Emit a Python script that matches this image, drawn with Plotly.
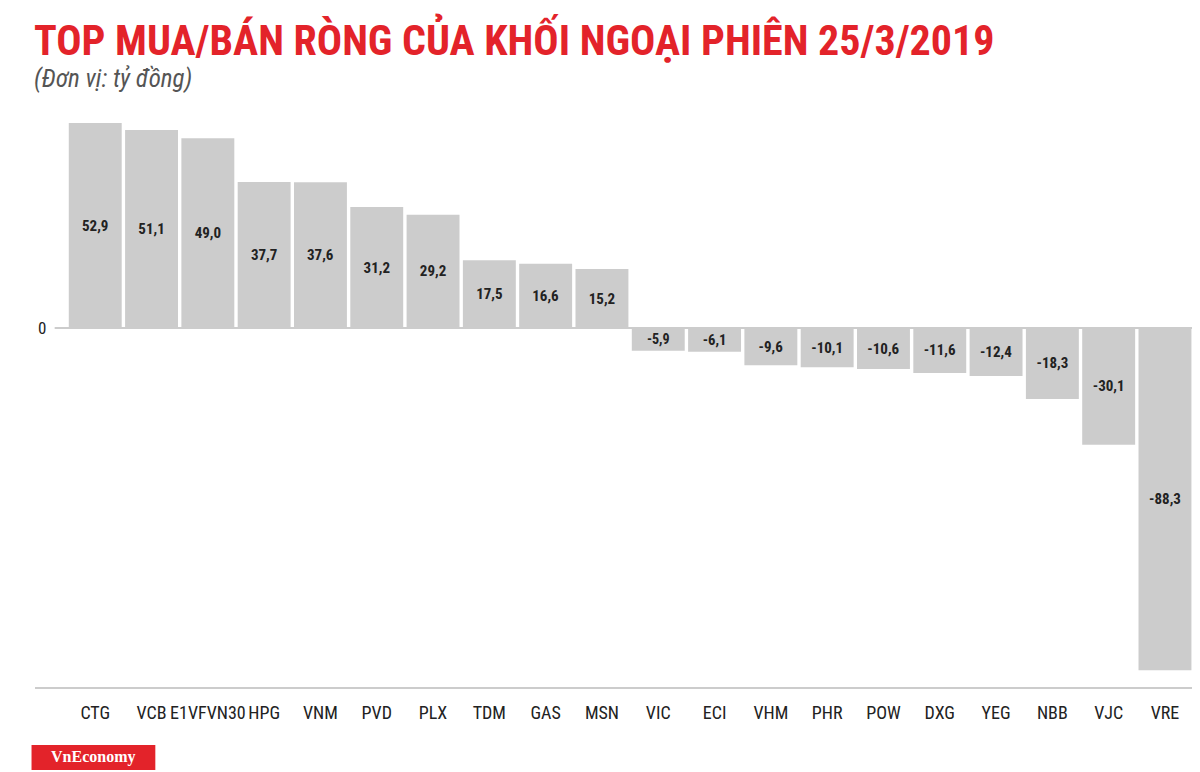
import plotly.graph_objects as go

tickers = ["CTG", "VCB", "E1VFVN30", "HPG", "VNM", "PVD", "PLX", "TDM", "GAS", "MSN",
           "VIC", "ECI", "VHM", "PHR", "POW", "DXG", "YEG", "NBB", "VJC", "VRE"]
values = [52.9, 51.1, 49.0, 37.7, 37.6, 31.2, 29.2, 17.5, 16.6, 15.2,
          -5.9, -6.1, -9.6, -10.1, -10.6, -11.6, -12.4, -18.3, -30.1, -88.3]
labels = [f"{v:.1f}".replace(".", ",") for v in values]

cond = "Roboto Condensed, Liberation Sans Narrow, Roboto, sans-serif"
xs = list(range(len(tickers)))

fig = go.Figure(go.Bar(
    x=xs, y=values, width=0.94,
    marker=dict(color="#cccccc", line=dict(width=0)),
    text=[f"<b>{t}</b>" for t in labels], textposition="inside",
    insidetextanchor="middle", textangle=0,
    textfont=dict(family=cond, size=15, color="#222222"),
))

fig.update_layout(
    width=1192, height=764, plot_bgcolor="white", paper_bgcolor="white",
    margin=dict(l=27, r=8, t=103, b=84), showlegend=False,
    xaxis=dict(range=[-1.07, 19.48], tickvals=xs, ticktext=tickers,
               tickfont=dict(family=cond, size=18, color="#222222"),
               showgrid=False, zeroline=False, ticks="", ticklabelstandoff=12),
    yaxis=dict(range=[-92.9, 56], showgrid=False, zeroline=False,
               showticklabels=False),
    shapes=[
        dict(type="line", xref="paper", yref="y", x0=0.017, x1=1, y0=0, y1=0,
             line=dict(color="#bbbbbb", width=1.5), layer="below"),
        dict(type="line", xref="paper", yref="paper", x0=0, x1=1, y0=0, y1=0,
             line=dict(color="#bbbbbb", width=1.5)),
        dict(type="rect", xref="paper", yref="paper", x0=-0.003, x1=0.104,
             y0=-0.142, y1=-0.099, fillcolor="#e3232a", line=dict(width=0)),
    ],
    annotations=[
        dict(text="<b>TOP MUA/BÁN RÒNG CỦA KHỐI NGOẠI PHIÊN 25/3/2019</b>",
             xref="paper", yref="paper", x=-0.003, y=1.125, xanchor="left", yanchor="middle",
             showarrow=False, font=dict(family=cond, size=42, color="#e3232a")),
        dict(text="<i>(Đơn vị: tỷ đồng)</i>", xref="paper", yref="paper",
             x=-0.003, y=1.057, xanchor="left", yanchor="middle", showarrow=False,
             font=dict(family=cond, size=25, color="#555555")),
        dict(text="0", xref="paper", yref="y", x=0.006, y=0, xanchor="center",
             yanchor="middle", showarrow=False,
             font=dict(family=cond, size=17, color="#222222")),
        dict(text="<b>VnEconomy</b>", xref="paper", yref="paper", x=0.05, y=-0.12,
             xanchor="center", yanchor="middle", showarrow=False,
             font=dict(family="Liberation Serif, serif", size=16, color="white")),
    ],
)

fig.write_html("out.html")
